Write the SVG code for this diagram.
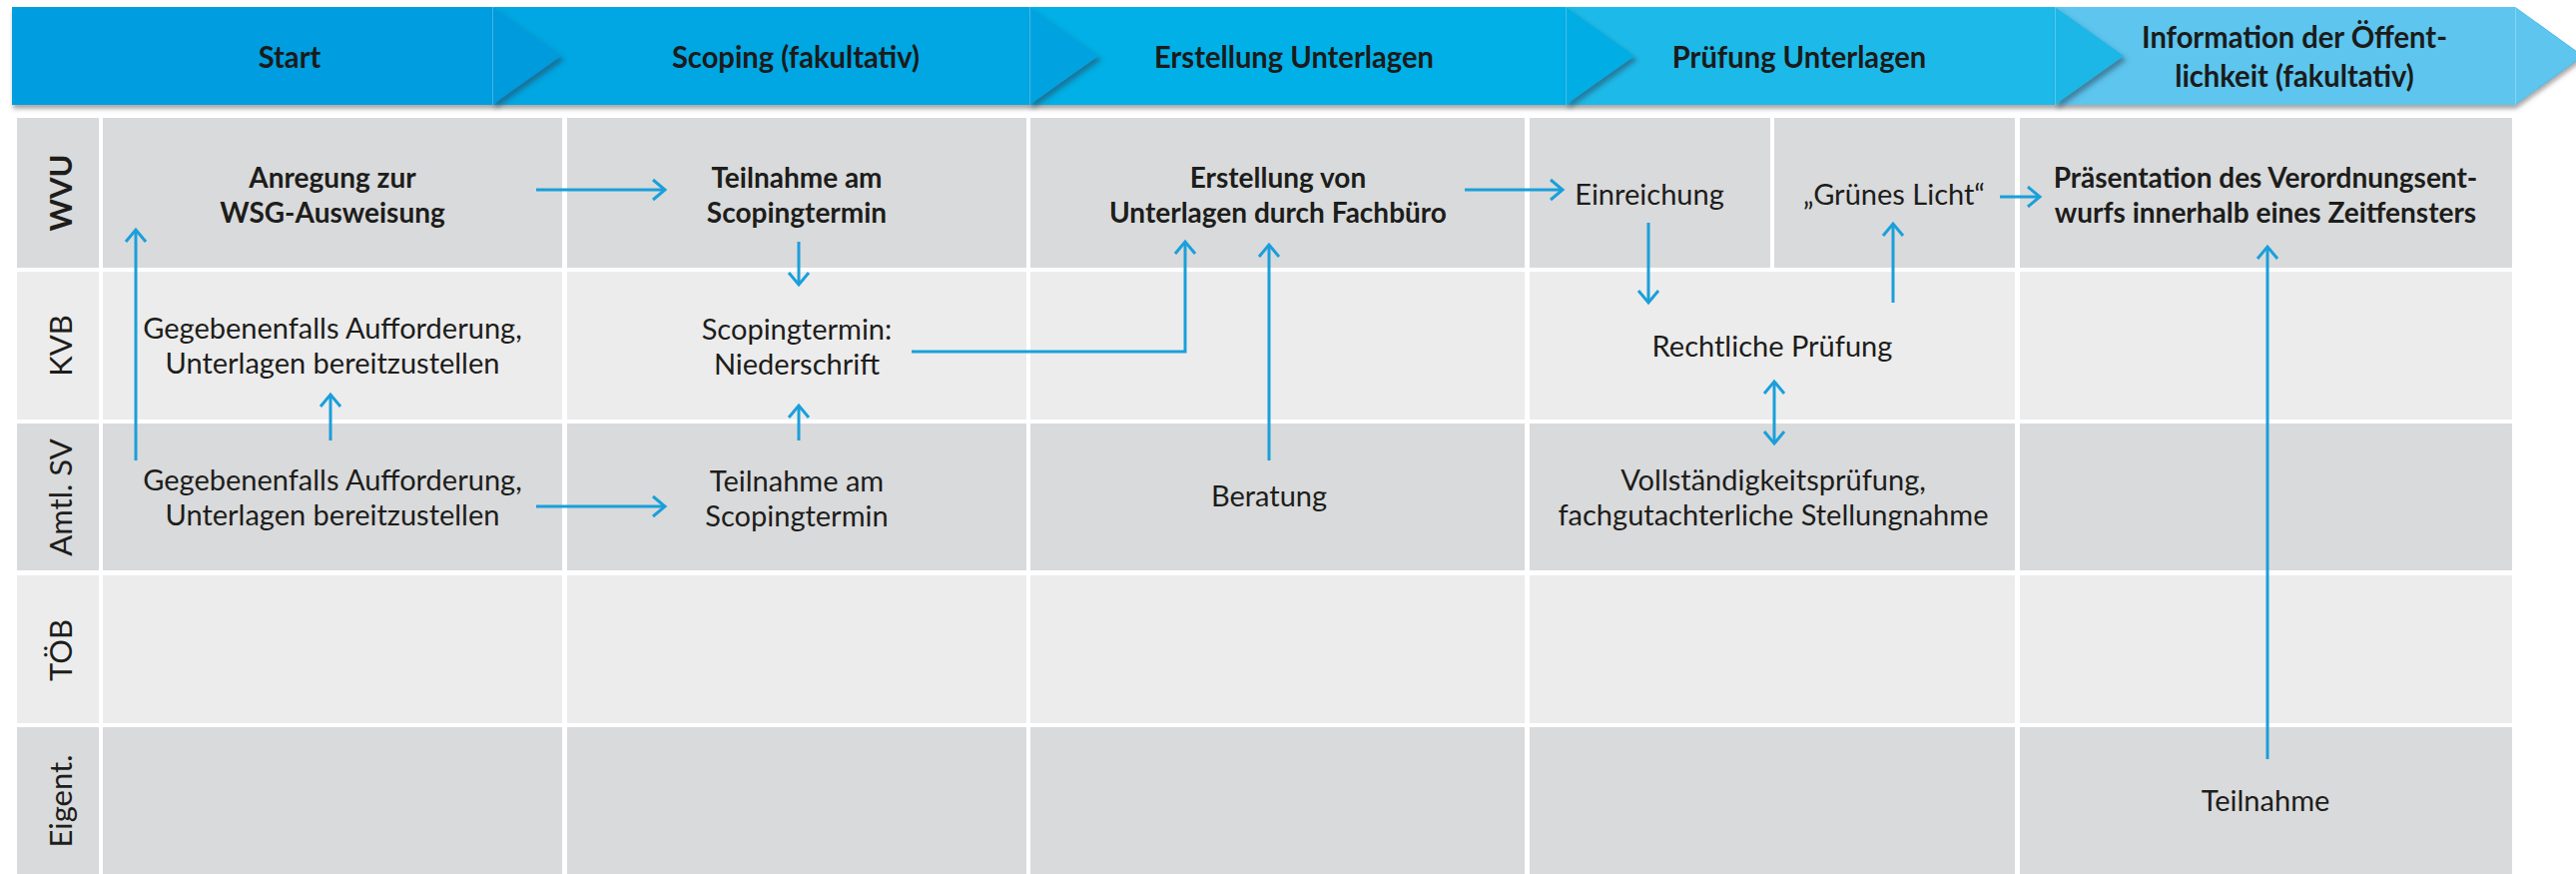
<svg xmlns="http://www.w3.org/2000/svg" width="2580" height="875" viewBox="0 0 2580 875">
<defs>
<style>
.hd{font-family:Lato,"Open Sans","Liberation Sans",sans-serif;font-weight:bold;font-size:31px;fill:#1b1b1b;text-anchor:middle}
.t{font-family:Lato,"Open Sans","Liberation Sans",sans-serif;font-size:29px;fill:#1d1d1b;text-anchor:middle}
.b{font-weight:bold;font-size:28px}
.lab{font-family:Lato,"Open Sans","Liberation Sans",sans-serif;font-size:31px;fill:#1d1d1b;text-anchor:middle}
.lab.b{font-size:31px}
.dk{fill:#d9dadb}
.lt{fill:#ececec}
.ar{fill:none;stroke:#1a9fdb;stroke-width:3;marker-end:url(#ah)}
</style>
<marker id="ah" markerUnits="userSpaceOnUse" viewBox="-16 -14 20 28" refX="0" refY="0" markerWidth="20" markerHeight="28" orient="auto-start-reverse">
<path d="M-12,-10 L0,0 L-12,10" fill="none" stroke="#1a9fdb" stroke-width="3"/>
</marker>
<filter id="sh" x="-20%" y="-20%" width="150%" height="160%">
<feDropShadow dx="3" dy="4" stdDeviation="2.5" flood-color="#2a4a60" flood-opacity="0.55"/>
</filter>
<filter id="hs" x="-5%" y="-20%" width="110%" height="160%">
<feDropShadow dx="1" dy="4" stdDeviation="2" flood-color="#555" flood-opacity="0.5"/>
</filter>
</defs>
<rect width="2580" height="875" fill="#fff"/>

<g id="header">
<g filter="url(#hs)">
<polygon points="12,7 2519,7 2587,56 2519,105 12,105" fill="#009ee0"/>
</g>
<rect x="493" y="7" width="538" height="98" fill="#00a7e3"/>
<rect x="1031" y="7" width="537" height="98" fill="#00b0e6"/>
<rect x="1568" y="7" width="490" height="98" fill="#1dbae9"/>
<polygon points="2058,7 2519,7 2587,56 2519,105 2058,105" fill="#5dc5ee"/>
<polygon points="493,7 562,56 493,105" fill="#049bdc" filter="url(#sh)"/>
<polygon points="1031,7 1100,56 1031,105" fill="#02a3e0" filter="url(#sh)"/>
<polygon points="1568,7 1637,56 1568,105" fill="#03ade4" filter="url(#sh)"/>
<polygon points="2058,7 2127,56 2058,105" fill="#1bb6e7" filter="url(#sh)"/>
<g stroke="#ffffff" stroke-opacity="0.25" stroke-width="1">
<line x1="493.5" y1="7" x2="493.5" y2="105"/>
<line x1="1031.5" y1="7" x2="1031.5" y2="105"/>
<line x1="1568.5" y1="7" x2="1568.5" y2="105"/>
<line x1="2058.5" y1="7" x2="2058.5" y2="105"/>
<line x1="2519.5" y1="7" x2="2519.5" y2="105"/>
</g>
</g>
<g id="phase-start" transform="translate(290,0) scale(0.94,1)"><text class="hd" x="0" y="68">Start</text></g>
<g id="phase-scoping" transform="translate(797,0) scale(0.94,1)"><text class="hd" x="0" y="68">Scoping (fakultativ)</text></g>
<g id="phase-erstellung" transform="translate(1296,0) scale(0.94,1)"><text class="hd" x="0" y="68">Erstellung Unterlagen</text></g>
<g id="phase-pruefung" transform="translate(1802,0) scale(0.94,1)"><text class="hd" x="0" y="68">Prüfung Unterlagen</text></g>
<g id="phase-information" transform="translate(2298,0) scale(0.94,1)"><text class="hd" x="0" y="48">Information der Öffent-</text><text class="hd" x="0" y="87">lichkeit (fakultativ)</text></g>

<g id="grid">
<rect class="dk" x="17" y="118" width="82" height="150"/>
<rect class="dk" x="103" y="118" width="460" height="150"/>
<rect class="dk" x="568" y="118" width="460" height="150"/>
<rect class="dk" x="1032" y="118" width="495" height="150"/>
<rect class="dk" x="1532" y="118" width="241" height="150"/>
<rect class="dk" x="1777" y="118" width="241" height="150"/>
<rect class="dk" x="2023" y="118" width="493" height="150"/>

<rect class="lt" x="17" y="272" width="82" height="148"/>
<rect class="lt" x="103" y="272" width="460" height="148"/>
<rect class="lt" x="568" y="272" width="460" height="148"/>
<rect class="lt" x="1032" y="272" width="495" height="148"/>
<rect class="lt" x="1532" y="272" width="486" height="148"/>
<rect class="lt" x="2023" y="272" width="493" height="148"/>

<rect class="dk" x="17" y="424" width="82" height="147"/>
<rect class="dk" x="103" y="424" width="460" height="147"/>
<rect class="dk" x="568" y="424" width="460" height="147"/>
<rect class="dk" x="1032" y="424" width="495" height="147"/>
<rect class="dk" x="1532" y="424" width="486" height="147"/>
<rect class="dk" x="2023" y="424" width="493" height="147"/>

<rect class="lt" x="17" y="576" width="82" height="148"/>
<rect class="lt" x="103" y="576" width="460" height="148"/>
<rect class="lt" x="568" y="576" width="460" height="148"/>
<rect class="lt" x="1032" y="576" width="495" height="148"/>
<rect class="lt" x="1532" y="576" width="486" height="148"/>
<rect class="lt" x="2023" y="576" width="493" height="148"/>

<rect class="dk" x="17" y="728" width="82" height="147"/>
<rect class="dk" x="103" y="728" width="460" height="147"/>
<rect class="dk" x="568" y="728" width="460" height="147"/>
<rect class="dk" x="1032" y="728" width="495" height="147"/>
<rect class="dk" x="1532" y="728" width="486" height="147"/>
<rect class="dk" x="2023" y="728" width="493" height="147"/>
</g>

<g id="lane-wvu"><text class="lab b" transform="translate(72,193) rotate(-90)">WVU</text></g>
<g id="lane-kvb"><text class="lab" transform="translate(72,346) rotate(-90)">KVB</text></g>
<g id="lane-amtl"><text class="lab" transform="translate(72,498) rotate(-90)">Amtl. SV</text></g>
<g id="lane-toeb"><text class="lab" transform="translate(72,651) rotate(-90)">TÖB</text></g>
<g id="lane-eigent"><text class="lab" transform="translate(72,802) rotate(-90)">Eigent.</text></g>

<g id="n-anregung"><text class="t b" x="333" y="188">Anregung zur</text><text class="t b" x="333" y="222.5">WSG-Ausweisung</text></g>
<g id="n-teilnahme-wvu"><text class="t b" x="798" y="188">Teilnahme am</text><text class="t b" x="798" y="222.5">Scopingtermin</text></g>
<g id="n-erstellung"><text class="t b" x="1280" y="188">Erstellung von</text><text class="t b" x="1280" y="222.5">Unterlagen durch Fachbüro</text></g>
<g id="n-einreichung"><text class="t" x="1652" y="205">Einreichung</text></g>
<g id="n-gruenes-licht"><text class="t" x="1897" y="205">„Grünes Licht“</text></g>
<g id="n-praesentation"><text class="t b" x="2269" y="188">Präsentation des Verordnungsent-</text><text class="t b" x="2269" y="222.5">wurfs innerhalb eines Zeitfensters</text></g>

<g id="n-kvb-aufforderung"><text class="t" x="333" y="339">Gegebenenfalls Aufforderung,</text><text class="t" x="333" y="374">Unterlagen bereitzustellen</text></g>
<g id="n-niederschrift"><text class="t" x="798" y="340">Scopingtermin:</text><text class="t" x="798" y="375">Niederschrift</text></g>
<g id="n-rechtliche"><text class="t" x="1775" y="357">Rechtliche Prüfung</text></g>

<g id="n-amtl-aufforderung"><text class="t" x="333" y="491">Gegebenenfalls Aufforderung,</text><text class="t" x="333" y="526">Unterlagen bereitzustellen</text></g>
<g id="n-teilnahme-amtl"><text class="t" x="798" y="492">Teilnahme am</text><text class="t" x="798" y="527">Scopingtermin</text></g>
<g id="n-beratung"><text class="t" x="1271" y="507">Beratung</text></g>
<g id="n-vollstaendigkeit"><text class="t" x="1776" y="491">Vollständigkeitsprüfung,</text><text class="t" x="1776" y="526">fachgutachterliche Stellungnahme</text></g>

<g id="n-teilnahme-eigent"><text class="t" x="2269" y="812">Teilnahme</text></g>

<g id="connectors">
<path class="ar" d="M537,190 H666"/>
<path class="ar" d="M537,507 H666"/>
<path class="ar" d="M136,461 V230"/>
<path class="ar" d="M331,441 V395"/>
<path class="ar" d="M800,242 V285"/>
<path class="ar" d="M800,441 V406"/>
<path class="ar" d="M913,352 H1187 V242"/>
<path class="ar" d="M1271,461 V245"/>
<path class="ar" d="M1467,190 H1565"/>
<path class="ar" d="M1651,223 V303"/>
<path class="ar" d="M1896,303 V224"/>
<path class="ar" d="M2003,197 H2043"/>
<path class="ar" d="M1777,382 V444" marker-start="url(#ah)"/>
<path class="ar" d="M2271,760 V247"/>
</g>
</svg>
